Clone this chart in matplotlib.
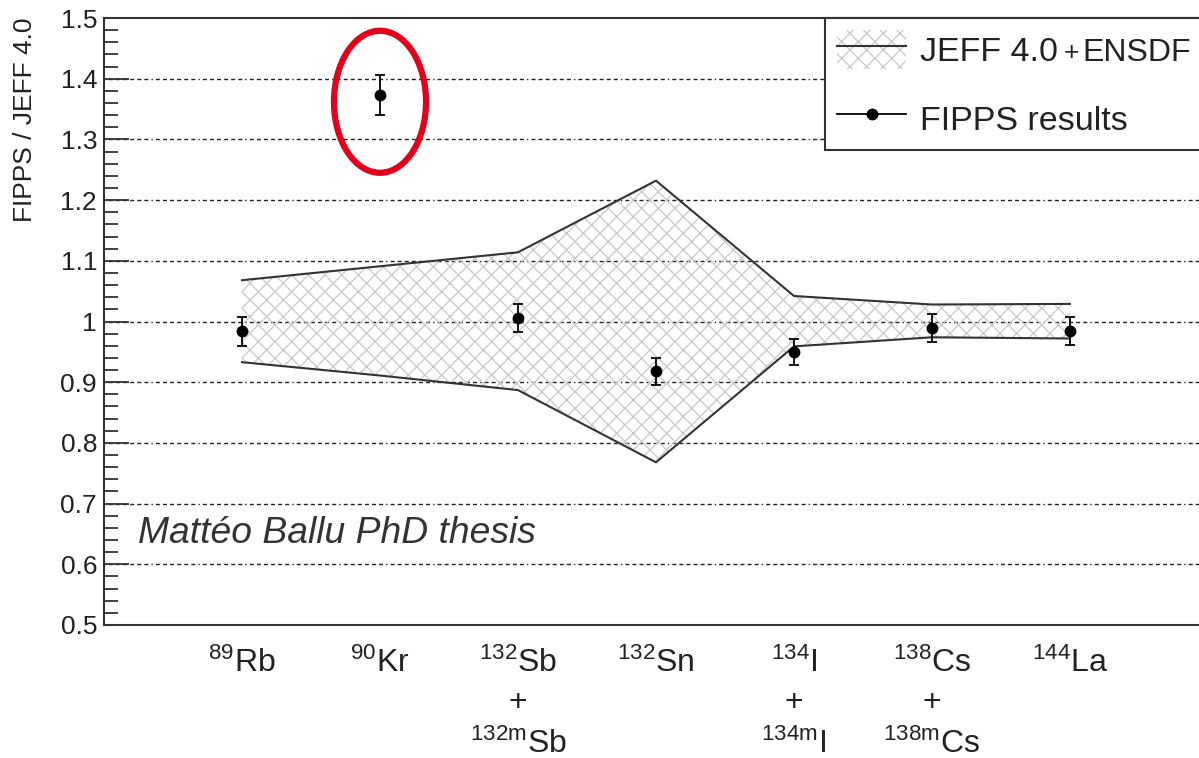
import numpy as np
import matplotlib
matplotlib.use('Agg')
import matplotlib.pyplot as plt
from matplotlib.patches import Patch, Ellipse
from matplotlib.lines import Line2D
from matplotlib.ticker import MultipleLocator

plt.rcParams['font.family'] = ['Liberation Sans', 'DejaVu Sans']
plt.rcParams['mathtext.fontset'] = 'custom'
plt.rcParams['mathtext.rm'] = 'Liberation Sans'
plt.rcParams['mathtext.it'] = 'Liberation Sans:italic'
plt.rcParams['hatch.color'] = '#c8c8c8'
plt.rcParams['hatch.linewidth'] = 0.9

# Data
labels = [
    r'$\mathregular{^{89}}$Rb',
    r'$\mathregular{^{90}}$Kr',
    r'$\mathregular{^{132}}$Sb' + '\n+\n' + r'$\mathregular{^{132m}}$Sb',
    r'$\mathregular{^{132}}$Sn',
    r'$\mathregular{^{134}}$I' + '\n+\n' + r'$\mathregular{^{134m}}$I',
    r'$\mathregular{^{138}}$Cs' + '\n+\n' + r'$\mathregular{^{138m}}$Cs',
    r'$\mathregular{^{144}}$La',
]
band_upper = [1.068, 1.091, 1.114, 1.232, 1.042, 1.028, 1.029]
band_lower = [0.933, 0.911, 0.887, 0.768, 0.959, 0.974, 0.972]
fipps = [0.984, 1.373, 1.006, 0.918, 0.950, 0.989, 0.984]
fipps_err = [0.024, 0.033, 0.023, 0.022, 0.021, 0.023, 0.023]

x = np.arange(len(labels))

fig = plt.figure(figsize=(11.99, 7.58), dpi=100)
ax = fig.add_axes([104/1199, 133/758, 1104/1199, 607/758])

# grid
grid_ls = (0, (1, 2.2) + (2.9, 2.2) * 6)
for yv in np.arange(0.6, 1.41, 0.1):
    ax.axhline(yv, color='#222222', lw=1.0, ls=grid_ls, zorder=1)

# band
ax.fill_between(x, band_lower, band_upper, facecolor='none', edgecolor='#c8c8c8',
                hatch='xx', linewidth=0, zorder=2)
ax.plot(x, band_upper, color='#333333', lw=1.5, zorder=3)
ax.plot(x, band_lower, color='#333333', lw=1.5, zorder=3)

# FIPPS points
ax.errorbar(x, fipps, yerr=fipps_err, fmt='o', color='black', ms=7.5,
            elinewidth=1.3, capsize=3.5, capthick=1.3, zorder=5)

# red highlight
ax.add_patch(Ellipse((1.0, 1.362), 0.667, 0.234, facecolor='none',
                     edgecolor='#e2001a', lw=4.5, zorder=6))

ax.text(-0.755, 0.635, 'Mattéo Ballu PhD thesis', style='italic', fontsize=26.8,
        color='#333333', va='baseline')

ax.set_xlim(-1, 7)
ax.set_ylim(0.5, 1.5)
ax.set_xticks(x)
ax.set_xticklabels(labels, fontsize=23, color='#222222', linespacing=1.42)
ax.tick_params(axis='x', length=0, pad=16)
ax.yaxis.set_minor_locator(MultipleLocator(0.02))
ax.set_yticks([0.5, 0.6, 0.7, 0.8, 0.9, 1.0, 1.1, 1.2, 1.3, 1.4, 1.5])
ax.set_yticklabels(['0.5', '0.6', '0.7', '0.8', '0.9', '1', '1.1', '1.2', '1.3', '1.4', '1.5'])
ax.tick_params(axis='y', which='major', direction='in', length=18, width=1.3,
               labelsize=19, pad=5, color='#333333', labelcolor='#222222')
ax.tick_params(axis='y', which='minor', direction='in', length=10, width=1.3,
               color='#333333')
ax.set_ylabel('FIPPS / JEFF 4.0', fontsize=19, loc='top', labelpad=17, color='#222222')
for s in ax.spines.values():
    s.set_color('#333333')
    s.set_linewidth(1.5)

# legend
h_band = (Patch(facecolor='white', edgecolor='#c8c8c8', hatch='xx', lw=0),
          Line2D([], [], color='#333333', lw=1.5))
h_pts = Line2D([], [], color='black', lw=1.3, marker='o', ms=7.5)
leg = ax.legend([h_band, h_pts], ['JEFF 4.0', 'FIPPS results'],
                loc='upper left', bbox_to_anchor=(0.6531, 0.7, 0.3469, 0.3),
                mode='expand', borderaxespad=0, fontsize=24.5, handlelength=2.03,
                handleheight=1.38, handletextpad=0.41, borderpad=0.36,
                labelspacing=0.88, fancybox=False, framealpha=1)
leg.get_frame().set_edgecolor('#333333')
leg.get_frame().set_linewidth(1.5)
for t in leg.get_texts():
    t.set_color('#222222')
plus = ax.annotate('+', xy=(1, 0), xycoords=leg.get_texts()[0], xytext=(4, 2),
                   textcoords='offset points', fontsize=19, color='#222222',
                   va='bottom', ha='left', zorder=10)
ax.annotate('ENSDF', xy=(1, 0), xycoords=plus, xytext=(2, -2),
            textcoords='offset points', fontsize=23, color='#222222',
            va='bottom', ha='left', zorder=10)

fig.savefig('out.png', dpi=100)
